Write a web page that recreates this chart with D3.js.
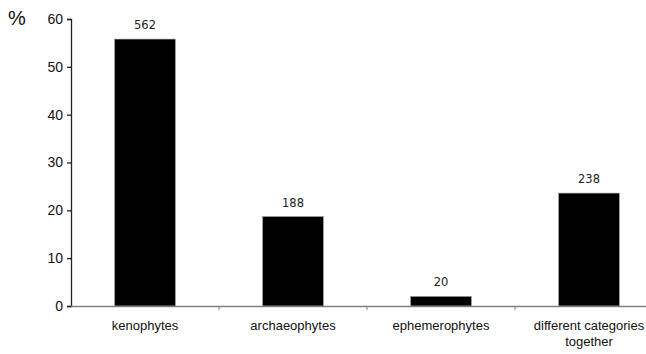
<!DOCTYPE html>
<html>
<head>
<meta charset="utf-8">
<script src="https://cdn.jsdelivr.net/npm/d3@7"></script>
<style>
  body { margin: 0; background: #fff; }
  svg { display: block; }
</style>
</head>
<body>
<div id="chart"></div>
<script>
const categories = ['kenophytes', 'archaeophytes', 'ephemerophytes', 'different categories|together'];
const percents = [55.8, 18.7, 2.0, 23.6];
const counts = [562, 188, 20, 238];
const yTicks = [0, 10, 20, 30, 40, 50, 60];

const W = 646, H = 354;
const margin = {t: 19, l: 71, b: 48};
const bandW = 148;
const plotH = H - margin.t - margin.b;

const svg = d3.select('#chart').append('svg')
	.attr('width', W)
	.attr('height', H);

const plot = svg.append('g')
	.attr('transform', `translate(${margin.l},${margin.t})`);

const scaleX = d3.scaleBand()
	.domain(categories)
	.range([0, bandW * categories.length])
	.paddingInner(0.59)
	.paddingOuter(0.295);

const scaleY = d3.scaleLinear().domain([0, 60]).range([plotH, 0]);

// y axis
const axisY = d3.axisLeft(scaleY)
	.tickValues(yTicks)
	.tickSize(4)
	.tickPadding(4);
const axisYNode = plot.append('g').attr('class', 'axis-y').call(axisY);
axisYNode.select('.domain').attr('stroke', '#222').attr('stroke-width', 1.3);
axisYNode.selectAll('.tick line').attr('stroke', '#222').attr('stroke-width', 1.3);
axisYNode.selectAll('.tick text')
	.attr('font-family', 'Liberation Sans, Arial, sans-serif')
	.attr('font-size', 14)
	.attr('fill', '#111');

// bars
plot.selectAll('.bar')
	.data(percents)
	.enter()
	.append('rect')
	.attr('class', 'bar')
	.attr('x', (d, i) => scaleX(categories[i]))
	.attr('y', d => scaleY(d))
	.attr('width', scaleX.bandwidth())
	.attr('height', d => plotH - scaleY(d))
	.attr('fill', '#000')
	.attr('stroke', '#999')
	.attr('stroke-width', 0.6);

// x axis line and category boundary ticks
plot.append('line')
	.attr('x1', 0).attr('x2', W - margin.l)
	.attr('y1', plotH + 0.5).attr('y2', plotH + 0.5)
	.attr('stroke', '#808080')
	.attr('stroke-width', 1.5);

plot.selectAll('.xtick')
	.data(categories.slice(1))
	.enter()
	.append('line')
	.attr('class', 'xtick')
	.attr('x1', d => scaleX(d) - scaleX.step() * scaleX.paddingInner() / 2)
	.attr('x2', d => scaleX(d) - scaleX.step() * scaleX.paddingInner() / 2)
	.attr('y1', plotH)
	.attr('y2', plotH + 4)
	.attr('stroke', '#808080')
	.attr('stroke-width', 1);

// count labels
plot.selectAll('.count')
	.data(counts)
	.enter()
	.append('text')
	.attr('class', 'count')
	.attr('x', (d, i) => scaleX(categories[i]) + scaleX.bandwidth() / 2)
	.attr('y', (d, i) => scaleY(percents[i]) - 10)
	.attr('text-anchor', 'middle')
	.attr('font-family', 'DejaVu Sans, sans-serif')
	.attr('font-size', 11.5)
	.attr('fill', '#222')
	.text(d => d);

// category labels
const catText = plot.selectAll('.cat')
	.data(categories)
	.enter()
	.append('text')
	.attr('class', 'cat')
	.attr('x', d => scaleX(d) + scaleX.bandwidth() / 2)
	.attr('y', plotH + 24)
	.attr('text-anchor', 'middle')
	.attr('font-family', 'Liberation Sans, Arial, sans-serif')
	.attr('font-size', 13)
	.attr('fill', '#111');

catText.selectAll('tspan')
	.data(d => d.split('|'))
	.enter()
	.append('tspan')
	.attr('x', function() { return d3.select(this.parentNode).attr('x'); })
	.attr('dy', (d, i) => i === 0 ? 0 : 16)
	.text(d => d);

// unit label
svg.append('text')
	.attr('x', 8)
	.attr('y', 25)
	.attr('font-family', 'Liberation Sans, Arial, sans-serif')
	.attr('font-size', 20)
	.attr('fill', '#111')
	.text('%');
</script>
</body>
</html>
